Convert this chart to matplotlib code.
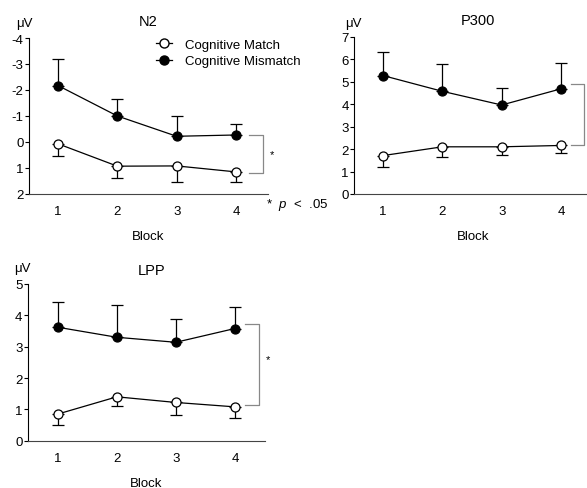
import matplotlib as mpl
import matplotlib.pyplot as plt
from matplotlib.lines import Line2D

mpl.rcParams.update({
    "font.family": ["Liberation Sans", "DejaVu Sans"],
    "font.size": 9.5,
    "mathtext.fontset": "custom",
    "mathtext.rm": "Liberation Sans",
    "mathtext.it": "Liberation Sans:italic",
    "axes.linewidth": 0.8,
    "axes.spines.top": False,
    "axes.spines.right": False,
})

W, H = 587, 489
GRAY = "#888888"

blocks = [1, 2, 3, 4]

# N2 (plotted on an inverted axis, negative up)
n2_mismatch = [-2.17, -1.00, -0.22, -0.27]
n2_mismatch_err = [1.03, 0.65, 0.79, 0.43]
n2_match = [0.07, 0.93, 0.92, 1.15]
n2_match_err = [0.47, 0.44, 0.63, 0.39]

# P300
p300_mismatch = [5.27, 4.57, 3.96, 4.68]
p300_mismatch_err = [1.06, 1.20, 0.74, 1.17]
p300_match = [1.71, 2.10, 2.10, 2.16]
p300_match_err = [0.50, 0.46, 0.36, 0.32]

# LPP
lpp_mismatch = [3.62, 3.30, 3.14, 3.58]
lpp_mismatch_err = [0.79, 1.03, 0.75, 0.69]
lpp_match = [0.85, 1.40, 1.22, 1.08]
lpp_match_err = [0.34, 0.29, 0.39, 0.36]

fig = plt.figure(figsize=(W / 100, H / 100), dpi=100)


def px_axes(l, t, r, b):
    return fig.add_axes([l / W, 1 - b / H, (r - l) / W, (b - t) / H])


def style(ax, xlim, ylim, yticks):
    ax.set_xlim(*xlim)
    ax.set_ylim(*ylim)
    ax.set_xticks(blocks)
    ax.set_yticks(yticks)
    ax.tick_params(axis="x", length=0, pad=8, labelsize=9.5)
    ax.tick_params(axis="y", length=3, width=0.8, pad=0.8, labelsize=9.5)
    ax.spines["left"].set_color("black")
    ax.spines["bottom"].set_color("#444444")
    ax.set_xlabel("Block", fontsize=9.5, labelpad=9.5)


def draw(ax, mis, mis_err, mat, mat_err, mis_up):
    # errors point away from the other curve (one-sided)
    z = [0] * len(blocks)
    e_mis = [z, mis_err] if mis_up else [mis_err, z]
    e_mat = [mat_err, z] if mis_up else [z, mat_err]
    for y, e in [(mis, e_mis), (mat, e_mat)]:
        ax.errorbar(blocks, y, yerr=e, fmt="none", ecolor="black", elinewidth=0.9,
                    capsize=4, capthick=0.9, zorder=2)
    ax.plot(blocks, mis, color="black", lw=0.9, marker="o", ms=6.5,
            mfc="black", mec="black", mew=0.9, zorder=3)
    ax.plot(blocks, mat, color="black", lw=0.9, marker="o", ms=6.5,
            mfc="white", mec="black", mew=0.9, zorder=3)


def bracket(ax, x0, x1, y0, y1):
    ax.plot([x0, x1, x1, x0], [y0, y0, y1, y1], color=GRAY, lw=0.9, clip_on=False)


# ---- N2 ----
ax1 = px_axes(29, 39, 268, 195)
draw(ax1, n2_mismatch, n2_mismatch_err, n2_match, n2_match_err, mis_up=False)
style(ax1, (0.51, 4.54), (2, -4), range(-4, 3))
ax1.set_yticklabels([str(v) for v in range(-4, 3)])
bracket(ax1, 4.22, 4.455, -0.27, 1.2)
ax1.text(4.61, 0.45, "*", fontsize=8, ha="center", va="center", clip_on=False)
ax1.text(4.50, 2.38, r"*  $p$  <  .05", fontsize=9.5, ha="left", va="center", clip_on=False)
ax1.text(0.5, 1.067, "N2", transform=ax1.transAxes, ha="center", va="bottom", fontsize=10.5)

handles = [Line2D([], [], color="black", lw=0.9, marker="o", ms=6.5, mfc="white", mec="black"),
           Line2D([], [], color="black", lw=0.9, marker="o", ms=6.5, mfc="black", mec="black")]
ax1.legend(handles, ["Cognitive Match", "Cognitive Mismatch"], loc="upper left",
           bbox_to_anchor=(0.531, 0.995), frameon=False, fontsize=9.5, handlelength=1.2,
           handletextpad=1.0, borderpad=0, borderaxespad=0, labelspacing=0.32,
           numpoints=1)

# ---- P300 ----
ax2 = px_axes(354, 37.7, 593, 195)
draw(ax2, p300_mismatch, p300_mismatch_err, p300_match, p300_match_err, mis_up=True)
style(ax2, (0.51, 4.54), (0, 7), range(0, 8))
bracket(ax2, 4.17, 4.39, 4.88, 2.16)
ax2.text(0.52, 1.06, "P300", transform=ax2.transAxes, ha="center", va="bottom", fontsize=10.5)

# ---- LPP ----
ax3 = px_axes(27.7, 285, 265, 441.7)
draw(ax3, lpp_mismatch, lpp_mismatch_err, lpp_match, lpp_match_err, mis_up=True)
style(ax3, (0.49, 4.51), (0, 5), range(0, 6))
bracket(ax3, 4.17, 4.41, 3.71, 1.14)
ax3.text(4.56, 2.6, "*", fontsize=8, ha="center", va="center", clip_on=False)
ax3.text(0.52, 1.045, "LPP", transform=ax3.transAxes, ha="center", va="bottom", fontsize=10.5)

# µV unit labels above each y axis
for x, y in [(24, 24), (353, 24), (22, 269)]:
    fig.text(x / W, 1 - y / H, "\u03bcV", ha="center", va="center", fontsize=9.5)

fig.savefig("out.png", dpi=100)
